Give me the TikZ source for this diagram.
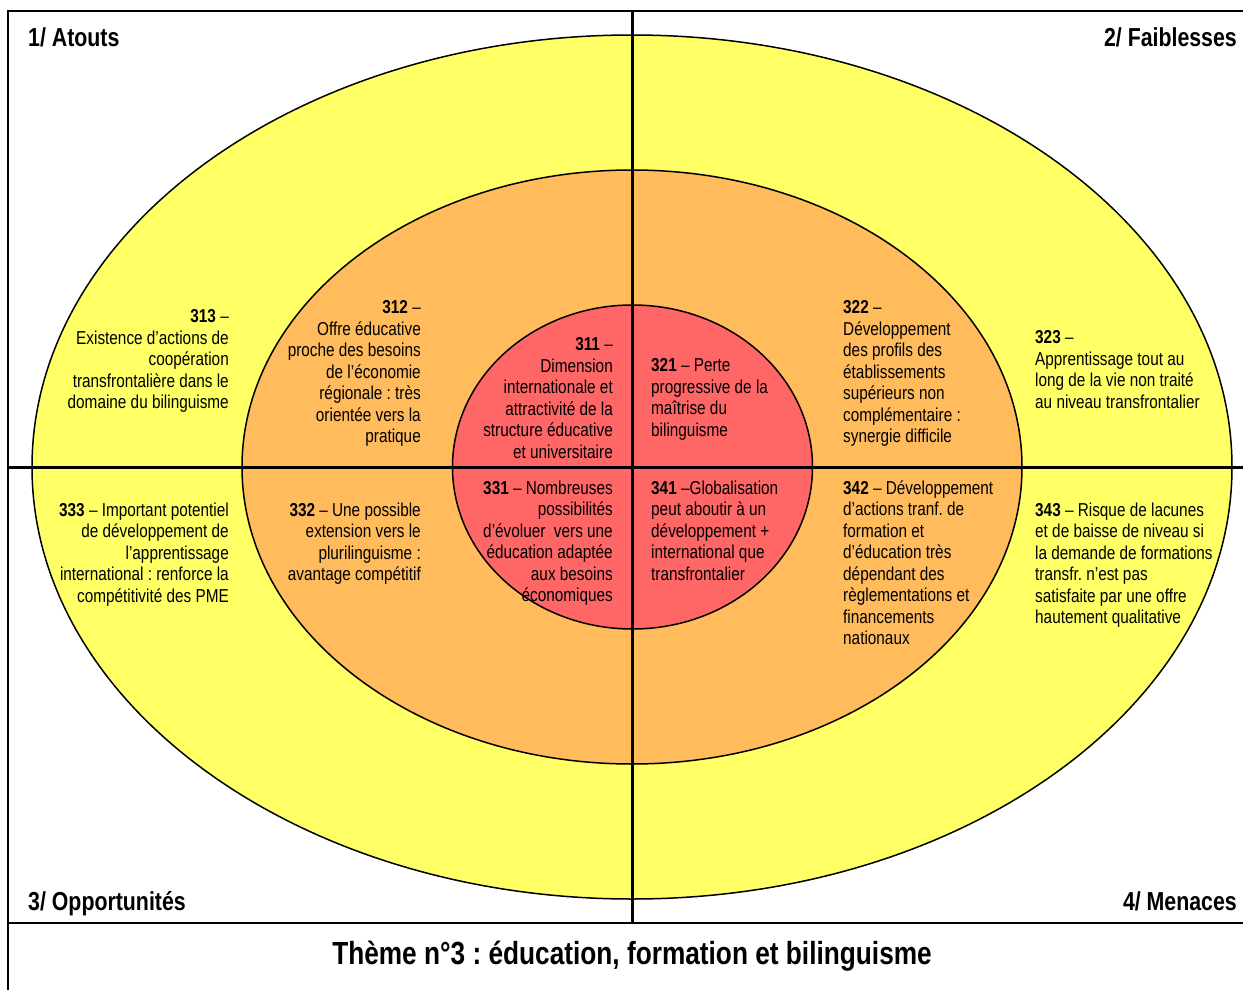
\documentclass[tikz,border=0pt]{standalone}
\usepackage{fontspec}
\setmainfont{Liberation Sans}[FakeStretch=0.82]
\frenchspacing
\definecolor{ylw}{HTML}{FFFF66}
\definecolor{org}{HTML}{FFBB5C}
\definecolor{rd}{HTML}{FF6666}
\tikzset{
  frame/.style={line width=1.5pt},
  cross/.style={line width=3pt},
  ring/.style={line width=1.5pt, draw=black},
  body/.style={inner sep=0pt, font=\fontsize{18.7}{21.5}\selectfont},
  lbody/.style={body, align=right, anchor=north east},
  rbody/.style={body, align=left, anchor=north west},
  quad/.style={inner sep=0pt, font=\fontsize{26}{30}\selectfont\bfseries},
  theme/.style={inner sep=0pt, font=\fontsize{32}{36}\selectfont\bfseries}
}
\begin{document}
\begin{tikzpicture}[x=1pt,y=-1pt]
\useasboundingbox (0,0) rectangle (1243,990);
% ellipses
\fill[ylw] (632,467) ellipse [x radius=600, y radius=432];
\draw[ring] (632,467) ellipse [x radius=600, y radius=432];
\fill[org] (632,467) ellipse [x radius=390, y radius=297];
\draw[ring] (632,467) ellipse [x radius=390, y radius=297];
\fill[rd] (632.5,467) ellipse [x radius=180, y radius=162];
\draw[ring] (632.5,467) ellipse [x radius=180, y radius=162];
% frame
\coordinate (tl) at (8,11);
\coordinate (tr) at (1243,11);
\coordinate (bl) at (8,990);
\coordinate (ml) at (8,923);
\coordinate (mr) at (1243,923);
\draw[frame] (tr) -- (tl) -- (bl);
\draw[frame] (ml) -- (mr);
% cross
\coordinate (vt) at (632,11);
\coordinate (vb) at (632,923);
\coordinate (hl) at (8,467);
\coordinate (hr) at (1243,467);
\draw[cross] (vt) -- (vb);
\draw[cross] (hl) -- (hr);
% quadrant titles
\node[quad, anchor=base west] (q1) at (28,46.3) {1/ Atouts};
\node[quad, anchor=base east] (q2) at (1237,46.3) {2/ Faiblesses};
\node[quad, anchor=base west] (q3) at (28,910.3) {3/ Opportunités};
\node[quad, anchor=base east] (q4) at (1237,910.3) {4/ Menaces};
\node[theme, anchor=base] (th) at (632,964.5) {Thème n°3 : éducation, formation et bilinguisme};
% text blocks
\node[lbody] (t313) at (229,309.3) {\textbf{313} –\\Existence d’actions de\\coopération\\transfrontalière dans le\\domaine du bilinguisme};
\node[lbody] (t312) at (421,300.3) {\textbf{312} –\\Offre éducative\\proche des besoins\\de l’économie\\régionale : très\\orientée vers la\\pratique};
\node[lbody] (t311) at (613,337.3) {\textbf{311} –\\Dimension\\internationale et\\attractivité de la\\structure éducative\\et universitaire};
\node[rbody] (t321) at (651,358.3) {\textbf{321} – Perte\\progressive de la\\maîtrise du\\bilinguisme};
\node[rbody] (t322) at (843,300.3) {\textbf{322} –\\Développement\\des profils des\\établissements\\supérieurs non\\complémentaire :\\synergie difficile};
\node[rbody] (t323) at (1035,330.3) {\textbf{323} –\\Apprentissage tout au\\long de la vie non traité\\au niveau transfrontalier};
\node[lbody] (t333) at (229,502.3) {\textbf{333} – Important potentiel\\de développement de\\l’apprentissage\\international : renforce la\\compétitivité des PME};
\node[lbody] (t332) at (421,502.3) {\textbf{332} – Une possible\\extension vers le\\plurilinguisme :\\avantage compétitif};
\node[lbody] (t331) at (613,480.3) {\textbf{331} – Nombreuses\\possibilités\\d’évoluer~ vers une\\éducation adaptée\\aux besoins\\économiques};
\node[rbody] (t341) at (651,480.3) {\textbf{341} –Globalisation\\peut aboutir à un\\développement +\\international que\\transfrontalier};
\node[rbody] (t342) at (843,480.3) {\textbf{342} – Développement\\d’actions tranf. de\\formation et\\d’éducation très\\dépendant des\\règlementations et\\financements\\nationaux};
\node[rbody] (t343) at (1035,502.3) {\textbf{343} – Risque de lacunes\\et de baisse de niveau si\\la demande de formations\\transfr. n’est pas\\satisfaite par une offre\\hautement qualitative};
\end{tikzpicture}
\end{document}
